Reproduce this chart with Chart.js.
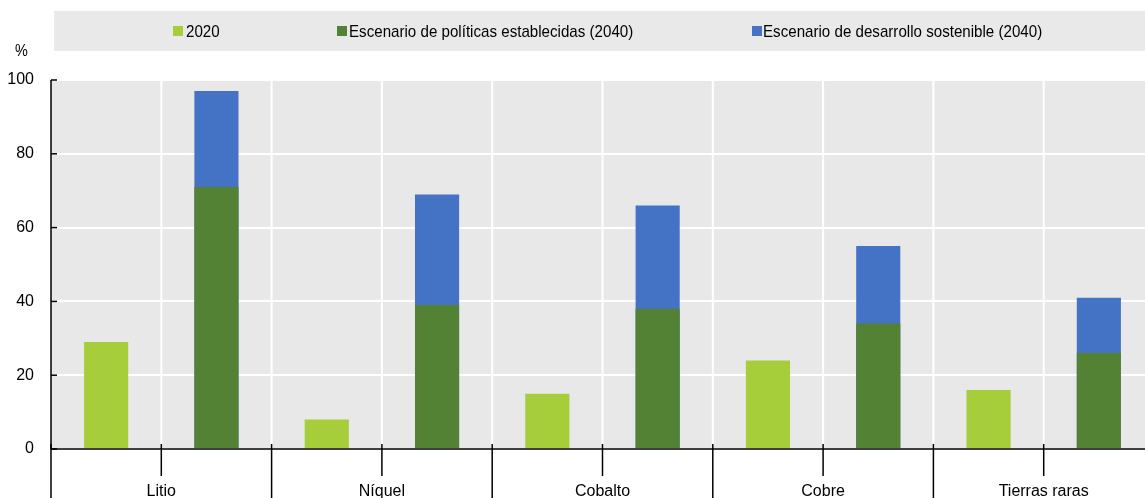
<!DOCTYPE html>
<html>
<head>
<meta charset="utf-8">
<script src="https://cdn.jsdelivr.net/npm/chart.js@4"></script>
<style>
  html, body { margin: 0; padding: 0; background: #fff; overflow: hidden; width: 1145px; height: 498px; }
  #wrap { position: relative; width: 1145px; height: 498px; overflow: hidden; }
  canvas { position: absolute; left: 0; top: 0; }
  .lg { position: absolute; left: 54px; top: 11px; width: 1091px; height: 40px; background: #e9e9e9; }
  .it { position: absolute; top: 1px; height: 40px; line-height: 40px; font-family: "Liberation Sans Narrow", "Liberation Sans", Arial, sans-serif; font-size: 17px; color: #000; white-space: nowrap; transform: scaleX(0.89); transform-origin: 0 50%; }
  .sq { position: absolute; top: 15px; width: 10px; height: 10px; }
  .unit { position: absolute; left: 15px; top: 42px; font-family: "Liberation Sans", Arial, sans-serif; font-size: 16px; color: #000; transform: scaleX(0.9); transform-origin: 0 50%; }
</style>
</head>
<body>
<div id="wrap">
  <canvas id="c" width="1160" height="498"></canvas>
  <div class="lg" id="legend"></div>
  <div class="unit">%</div>
</div>
<script>
const categories = ["Litio", "Níquel", "Cobalto", "Cobre", "Tierras raras"];
const seriesNames = ["2020", "Escenario de políticas establecidas (2040)", "Escenario de desarrollo sostenible (2040)"];
const values2020 = [29, 8, 15, 24, 16];
const valuesSTEPS2040 = [71, 39, 38, 34, 26];
const valuesSDS2040 = [97, 69, 66, 55, 41];
const yTicks = [0, 20, 40, 60, 80, 100];

const colors = ["#a6cd3a", "#548235", "#4472c4"];
const FONT = '"Liberation Sans", Arial, sans-serif';

// HTML legend
const legendPos = [{sq: 119, tx: 132}, {sq: 283, tx: 295}, {sq: 698, tx: 709}];
const lg = document.getElementById('legend');
seriesNames.forEach((n, i) => {
  const s = document.createElement('div');
  s.className = 'sq'; s.style.left = legendPos[i].sq + 'px'; s.style.background = colors[i];
  lg.appendChild(s);
  const t = document.createElement('div');
  t.className = 'it'; t.style.left = legendPos[i].tx + 'px'; t.textContent = n;
  lg.appendChild(t);
});

const bgPlugin = {
  id: 'bg',
  beforeDraw(chart) {
    const {ctx, chartArea: a} = chart;
    ctx.save();
    ctx.fillStyle = '#e8e8e8';
    ctx.fillRect(a.left, a.top, a.right - a.left, a.bottom - a.top);
    ctx.restore();
  },
  beforeDatasetsDraw(chart) {
    const {ctx, chartArea: a} = chart;
    const x = chart.scales.x;
    const n = categories.length;
    const w = (x.getPixelForValue(1) - x.getPixelForValue(0));
    ctx.save();
    ctx.strokeStyle = '#ffffff';
    ctx.lineWidth = 2;
    for (let i = 0; i < n; i++) {
      const c = x.getPixelForValue(i);
      [c - w / 2, c].forEach(px => {
        if (px <= a.left + 1) return;
        ctx.beginPath(); ctx.moveTo(px, a.top); ctx.lineTo(px, a.bottom); ctx.stroke();
      });
    }
    ctx.restore();
  },
  afterDatasetsDraw(chart) {
    const {ctx, chartArea: a} = chart;
    const x = chart.scales.x, y = chart.scales.y;
    const n = categories.length;
    const w = (x.getPixelForValue(1) - x.getPixelForValue(0));
    ctx.save();
    ctx.strokeStyle = '#000';
    ctx.lineWidth = 1.5;
    ctx.beginPath(); ctx.moveTo(a.left, a.top); ctx.lineTo(a.left, a.bottom); ctx.stroke();
    yTicks.forEach(v => {
      const py = y.getPixelForValue(v);
      ctx.beginPath(); ctx.moveTo(a.left, py); ctx.lineTo(a.left + 6, py); ctx.stroke();
    });
    ctx.beginPath(); ctx.moveTo(a.left, a.bottom); ctx.lineTo(a.right, a.bottom); ctx.stroke();
    for (let i = 0; i < n; i++) {
      const c = x.getPixelForValue(i);
      const b = c - w / 2;
      ctx.beginPath(); ctx.moveTo(b, a.bottom - 5); ctx.lineTo(b, chart.height); ctx.stroke();
      ctx.beginPath(); ctx.moveTo(c, a.bottom - 5); ctx.lineTo(c, a.bottom + 27); ctx.stroke();
    }
    const last = x.getPixelForValue(n - 1) + w / 2;
    ctx.beginPath(); ctx.moveTo(last, a.bottom - 5); ctx.lineTo(last, chart.height); ctx.stroke();
    ctx.restore();
  }
};

new Chart(document.getElementById('c'), {
  type: 'bar',
  data: {
    labels: categories,
    datasets: [
      { label: seriesNames[0], data: values2020, backgroundColor: colors[0], stack: 'a' },
      { label: seriesNames[1], data: valuesSTEPS2040, backgroundColor: colors[1], stack: 'b' },
      { label: seriesNames[2], data: valuesSDS2040, backgroundColor: colors[2], stack: 'b' }
    ]
  },
  options: {
    responsive: false,
    animation: false,
    devicePixelRatio: 1,
    layout: { padding: { top: 80, right: 6, left: 0, bottom: 0 } },
    datasets: { bar: { categoryPercentage: 1.0, barPercentage: 0.4 } },
    plugins: { legend: { display: false }, tooltip: { enabled: false } },
    scales: {
      x: {
        stacked: true,
        grid: { display: false, drawTicks: false },
        border: { display: false },
        ticks: { font: { family: FONT, size: 16 }, color: '#000', padding: 33, maxRotation: 0 },
        afterFit(s) { s.height = 49; }
      },
      y: {
        stacked: false,
        min: 0, max: 100,
        afterBuildTicks(s) { s.ticks = yTicks.map(v => ({ value: v })); },
        grid: { color: '#ffffff', lineWidth: 2, drawTicks: false },
        border: { display: false },
        ticks: { font: { family: FONT, size: 16 }, color: '#000', padding: 17 },
        afterFit(s) { s.width = 51; }
      }
    }
  },
  plugins: [bgPlugin]
});
</script>
</body>
</html>
